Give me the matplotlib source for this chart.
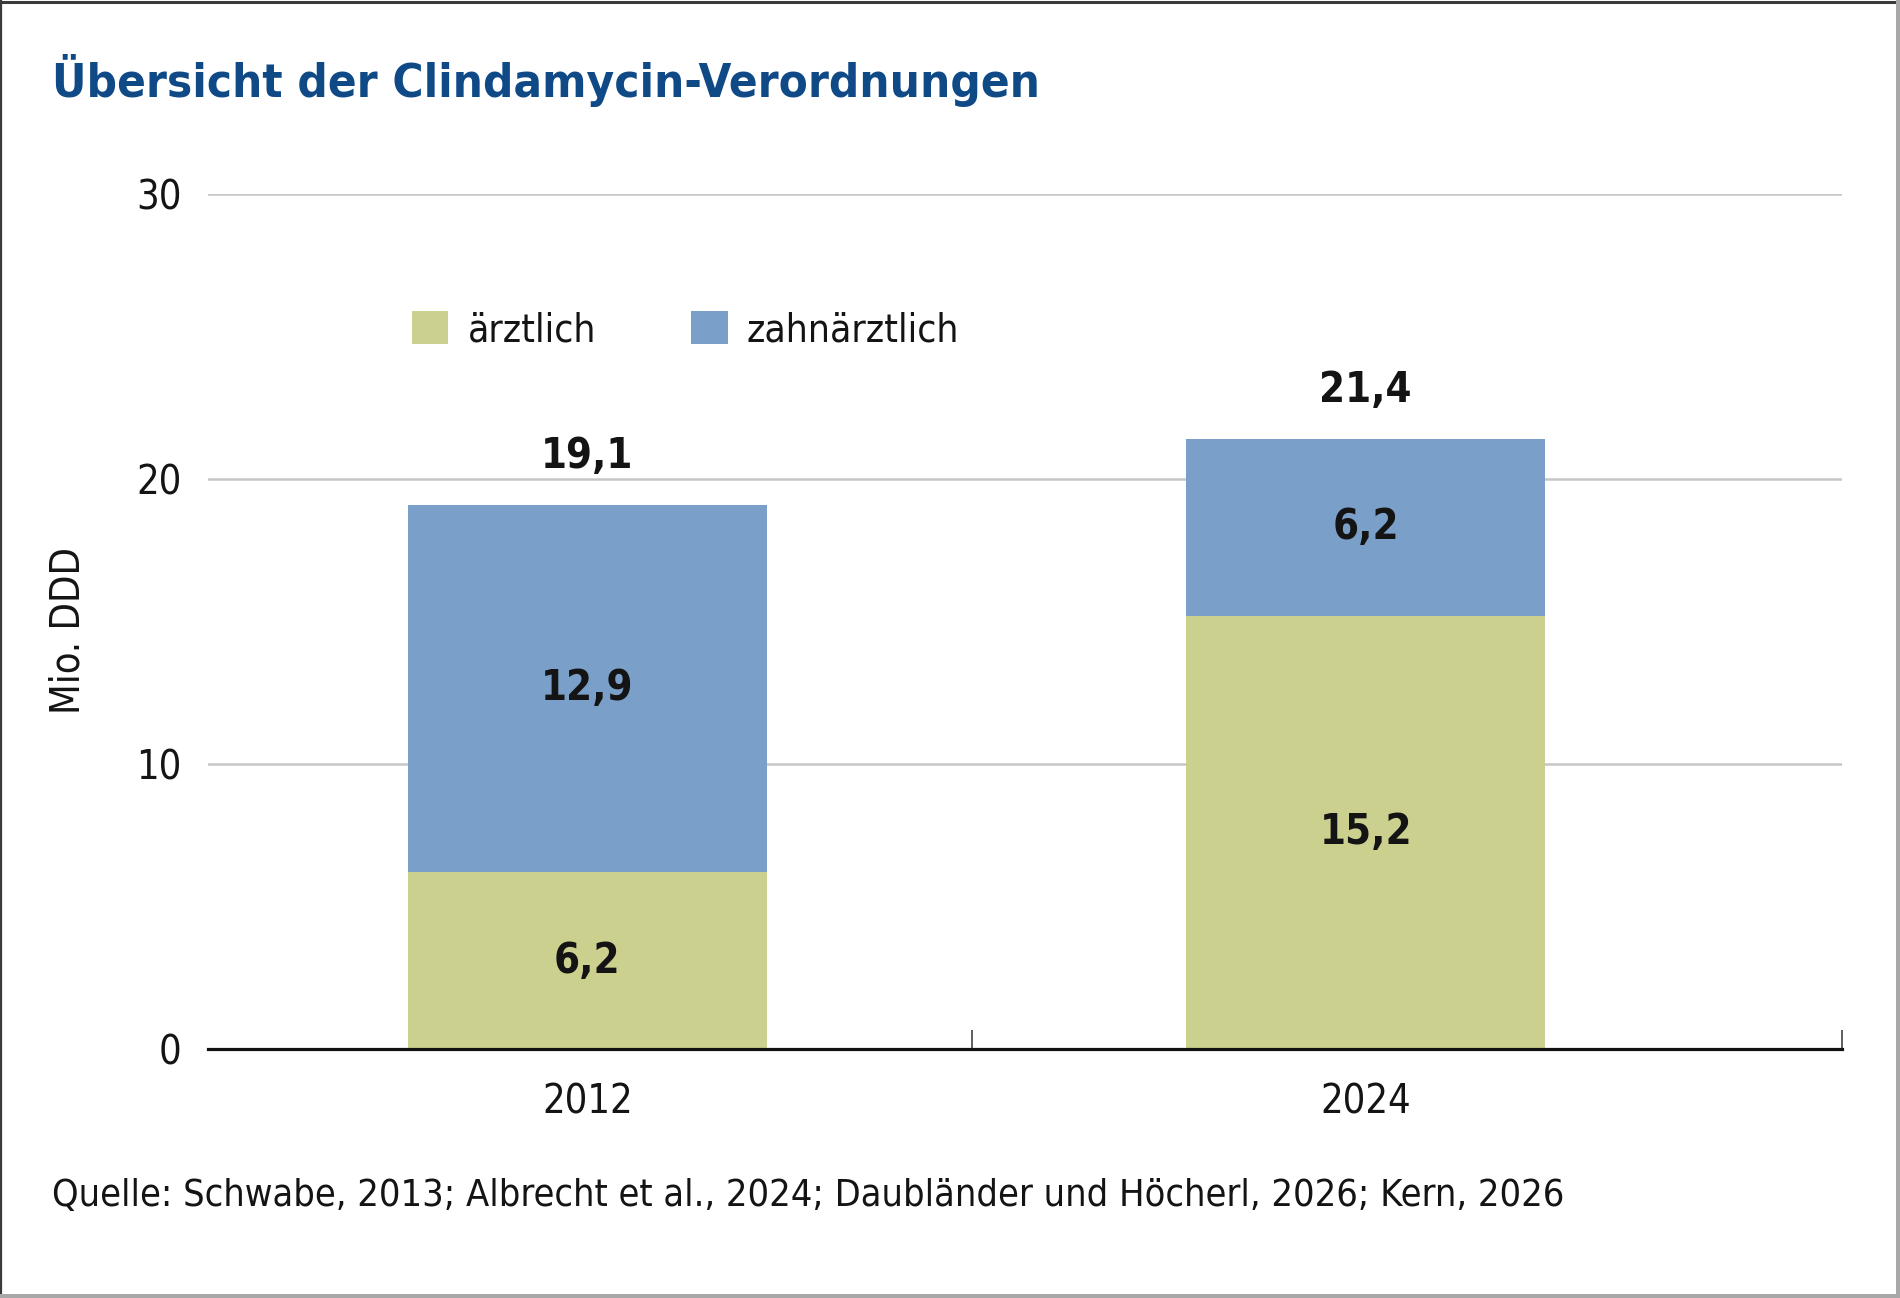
import matplotlib
matplotlib.use("Agg")
import matplotlib.pyplot as plt
from matplotlib.lines import Line2D

# ---- data ----
years = ["2012", "2024"]
aerztlich = [6.2, 15.2]
zahnaerztlich = [12.9, 6.2]
totals = [19.1, 21.4]
series_names = ["ärztlich", "zahnärztlich"]
yticks = [0, 10, 20, 30]
title = "Übersicht der Clindamycin-Verordnungen"
ylabel = "Mio. DDD"
source = "Quelle: Schwabe, 2013; Albrecht et al., 2024; Daubländer und Höcherl, 2026; Kern, 2026"

def fmt(v):
    return f"{v:.1f}".replace(".", ",")

GREEN = "#ccd08e"
BLUE = "#7a9fc8"
TITLE_C = "#0f4a87"
TXT = "#141414"

plt.rcParams['font.family'] = ['DejaVu Sans']
plt.rcParams['font.stretch'] = 'condensed'

W, H = 1900, 1298
fig = plt.figure(figsize=(W / 100, H / 100), dpi=100)
fig.patch.set_facecolor("white")

ax = fig.add_axes([208 / W, 1 - 1049 / H, (1842 - 208) / W, (1049 - 194) / H])
x = list(range(len(years)))
bw = 0.461
b1 = ax.bar(x, aerztlich, width=bw, color=GREEN, label=series_names[0], zorder=3)
b2 = ax.bar(x, zahnaerztlich, width=bw, bottom=aerztlich, color=BLUE,
            label=series_names[1], zorder=3)

ax.set_xlim(-0.4875, 1.612)
ax.set_ylim(0, 30)
ax.set_yticks(yticks)
ax.set_yticklabels([str(t) for t in yticks])
for t in yticks[1:]:
    ax.axhline(t, color="#c6c6c6", lw=1.8, zorder=1)

for s in ["left", "right", "top"]:
    ax.spines[s].set_visible(False)
ax.spines["bottom"].set_color("#111111")
ax.spines["bottom"].set_linewidth(2.3)
ax.spines["bottom"].set_zorder(4)

ax.set_xticks(x)
ax.set_xticklabels(years)
ax.set_xticks([0.494, 1.612], minor=True)
ax.tick_params(axis="x", which="major", length=0, pad=24, labelsize=28.5, labelcolor=TXT)
ax.tick_params(axis="x", which="minor", direction="in", length=14, width=1.1, color="#333333")
ax.tick_params(axis="y", length=0, pad=19, labelsize=28.5, labelcolor=TXT)

ax.set_ylabel(ylabel, fontsize=28.5, color=TXT, labelpad=0)
ax.yaxis.set_label_coords(-(208 - 88) / (1842 - 208), 0.489)

# segment labels
for i in x:
    ax.text(i, aerztlich[i] / 2, fmt(aerztlich[i]), ha="center", va="center",
            fontsize=30, fontweight="bold", color=TXT, zorder=5)
    ax.text(i, aerztlich[i] + zahnaerztlich[i] / 2, fmt(zahnaerztlich[i]),
            ha="center", va="center", fontsize=30, fontweight="bold", color=TXT, zorder=5)
    ax.annotate(fmt(totals[i]), (i, totals[i]), xytext=(0, 35), textcoords="offset points",
                ha="center", va="center", fontsize=30, fontweight="bold", color=TXT)

leg = ax.legend(handles=[b1, b2], loc="center left", bbox_to_anchor=(412 / W, 1 - 330 / H),
                bbox_transform=fig.transFigure, frameon=False, ncol=2, fontsize=28,
                handlelength=0.93, handleheight=0.93, handletextpad=0.5,
                columnspacing=2.45, borderpad=0, borderaxespad=0)
for t in leg.get_texts():
    t.set_color(TXT)

# title & source, fitted to reference widths
t_title = fig.text(52 / W, 1 - 97 / H, title, ha="left", va="baseline", fontsize=34,
                   fontweight="bold", color=TITLE_C,
                   family=["Liberation Sans Narrow", "DejaVu Sans"], fontstretch="condensed")
t_src = fig.text(52 / W, 1 - 1196 / H, source, ha="left", va="center", fontsize=22,
                 color=TXT)
fig.canvas.draw()
r = fig.canvas.get_renderer()
for t, target in [(t_title, 988), (t_src, 1514)]:
    w = t.get_window_extent(r).width
    t.set_fontsize(t.get_fontsize() * target / w)

# frame
fig.add_artist(Line2D([0, 1], [1 - 1.5 / H, 1 - 1.5 / H], transform=fig.transFigure, color="#3a3a3a", lw=2.2))
fig.add_artist(Line2D([1 / W, 1 / W], [0, 1], transform=fig.transFigure, color="#3a3a3a", lw=1.6))
fig.add_artist(Line2D([1 - 2.5 / W, 1 - 2.5 / W], [0, 1], transform=fig.transFigure, color="#a8a8a8", lw=3.6))
fig.add_artist(Line2D([0, 1], [2.5 / H, 2.5 / H], transform=fig.transFigure, color="#a8a8a8", lw=3.6))

fig.savefig("out.png", dpi=100, facecolor="white")
